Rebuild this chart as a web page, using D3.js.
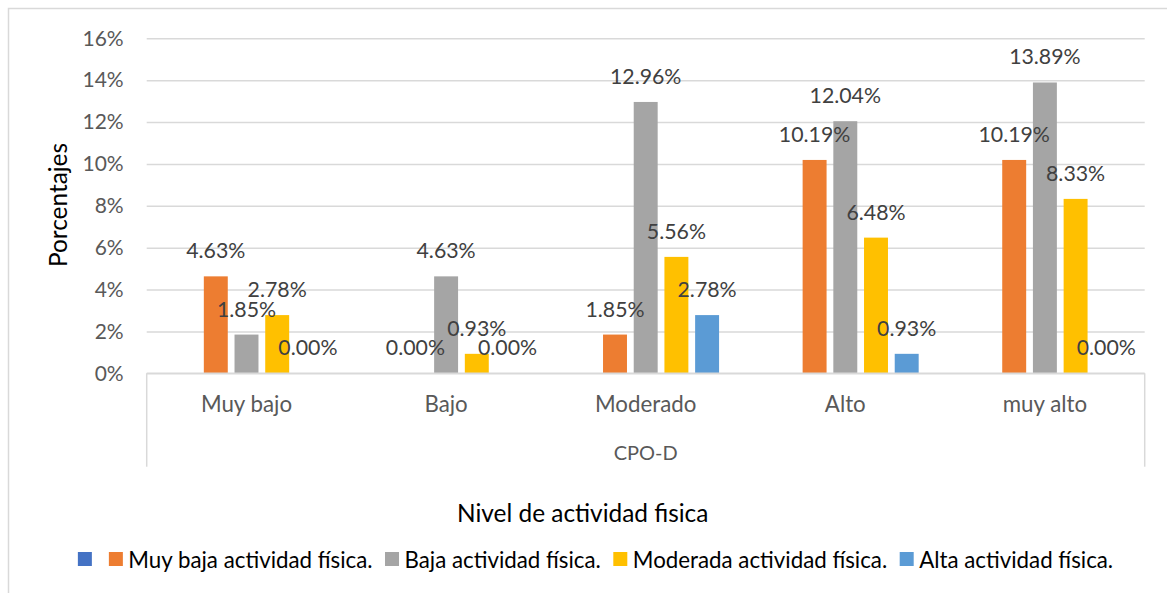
<!DOCTYPE html>
<html>
<head>
<meta charset="utf-8">
<script src="https://cdn.jsdelivr.net/npm/d3@7"></script>
<style>
  html, body { margin: 0; padding: 0; background: #ffffff; }
  svg { display: block; font-family: "Lato", "Open Sans", sans-serif; }
</style>
</head>
<body>
<svg id="chart" width="1167" height="593"></svg>
<script>
// ---- data ----
const categories = ["Muy bajo", "Bajo", "Moderado", "Alto", "muy alto"];
const groupLabel = "CPO-D";
const seriesNames = ["", "Muy baja actividad física.", "Baja actividad física.", "Moderada actividad física.", "Alta actividad física."];
const seriesColors = ["#4472C4", "#ED7D31", "#A5A5A5", "#FFC000", "#5B9BD5"];
const emptySeries = [null, null, null, null, null];
const muyBajaValues = [4.63, 0.00, 1.85, 10.19, 10.19];
const bajaValues = [1.85, 4.63, 12.96, 12.04, 13.89];
const moderadaValues = [2.78, 0.93, 5.56, 6.48, 8.33];
const altaValues = [0.00, 0.00, 2.78, 0.93, 0.00];
const yTicks = [0, 2, 4, 6, 8, 10, 12, 14, 16];
const yTitle = "Porcentajes";
const xTitle = "Nivel de actividad fisica";

const seriesValues = [emptySeries, muyBajaValues, bajaValues, moderadaValues, altaValues];

// ---- layout ----
const svg = d3.select("#chart");
const W = 1167, H = 593;
const plot = { left: 146.7, right: 1144.7, top: 38.3, bottom: 373.3 };
const axisBottom = 466.7;

// outer chart border (right/bottom edges lie outside the picture)
svg.append("rect")
  .attr("x", 8.5).attr("y", 8.5)
  .attr("width", W + 10).attr("height", H + 10)
  .attr("fill", "#fff").attr("stroke", "#d9d9d9").attr("stroke-width", 1.5);

const x0 = d3.scaleBand().domain(categories).range([plot.left, plot.right]).padding(0);
const groupWidth = 153.5;
const x1 = d3.scaleBand().domain(d3.range(seriesNames.length))
  .range([0, groupWidth]).paddingInner(0.22).paddingOuter(0.11);
const y = d3.scaleLinear().domain([0, 16]).range([plot.bottom, plot.top]);

// gridlines + tick labels
const yAxis = d3.axisLeft(y).tickValues(yTicks).tickFormat(d => d + "%")
  .tickSize(-(plot.right - plot.left)).tickPadding(23);
const gy = svg.append("g").attr("transform", `translate(${plot.left},0)`).call(yAxis);
gy.select(".domain").remove();
gy.selectAll(".tick line").attr("stroke", "#d9d9d9").attr("stroke-width", 1.5);
gy.selectAll(".tick text").attr("fill", "#595959").style("font-size", "21px")
  .style("font-family", "Lato, sans-serif");

// bars
const groups = svg.append("g").selectAll("g").data(categories).join("g")
  .attr("transform", d => `translate(${x0(d) + (x0.bandwidth() - groupWidth) / 2},0)`);

groups.each(function(cat, ci) {
  const g = d3.select(this);
  seriesValues.forEach((vals, si) => {
    const v = vals[ci];
    if (v === null || v === undefined) return;
    g.append("rect")
      .attr("x", x1(si)).attr("width", x1.bandwidth())
      .attr("y", y(v)).attr("height", y(0) - y(v))
      .attr("fill", seriesColors[si]);
  });
});

// data labels
groups.each(function(cat, ci) {
  const g = d3.select(this);
  seriesValues.forEach((vals, si) => {
    const v = vals[ci];
    if (v === null || v === undefined) return;
    g.append("text")
      .attr("x", x1(si) + x1.bandwidth() / 2)
      .attr("y", y(v) - 18)
      .attr("text-anchor", "middle")
      .attr("fill", "#404040")
      .style("font-size", "21.3px")
      .text(v.toFixed(2) + "%");
  });
});

// category axis lines
const axisG = svg.append("g");
axisG.append("line").attr("x1", plot.left).attr("x2", plot.right)
  .attr("y1", plot.bottom).attr("y2", plot.bottom)
  .attr("stroke", "#d9d9d9").attr("stroke-width", 1.5);
[plot.left, plot.right].forEach(xx => {
  axisG.append("line").attr("x1", xx).attr("x2", xx)
    .attr("y1", plot.bottom).attr("y2", axisBottom)
    .attr("stroke", "#d9d9d9").attr("stroke-width", 1.5);
});

// category labels
axisG.selectAll("text.cat").data(categories).join("text")
  .attr("class", "cat")
  .attr("x", d => x0(d) + x0.bandwidth() / 2)
  .attr("y", 412)
  .attr("text-anchor", "middle")
  .attr("fill", "#595959")
  .style("font-size", "22.3px")
  .text(d => d);

axisG.append("text")
  .attr("x", (plot.left + plot.right) / 2)
  .attr("y", 460)
  .attr("text-anchor", "middle")
  .attr("fill", "#595959")
  .style("font-size", "20px")
  .text(groupLabel);

// axis titles
svg.append("text")
  .attr("transform", "translate(67,205) rotate(-90)")
  .attr("text-anchor", "middle")
  .attr("fill", "#000")
  .style("font-size", "24.4px")
  .text(yTitle);

svg.append("text")
  .attr("x", 582.7).attr("y", 521.5)
  .attr("text-anchor", "middle")
  .attr("fill", "#000")
  .style("font-size", "24.4px")
  .text(xTitle);

// legend
const legend = svg.append("g");
const sq = 14;
let cx = 0;
seriesNames.forEach((name, i) => {
  const item = legend.append("g").attr("transform", `translate(${cx},0)`);
  item.append("rect").attr("x", 0).attr("y", 0).attr("width", sq).attr("height", sq)
    .attr("fill", seriesColors[i]);
  if (name) {
    const t = item.append("text").attr("x", sq + 5.5).attr("y", 16)
      .attr("fill", "#000").style("font-size", "22.3px").text(name);
    cx += sq + 5.5 + t.node().getComputedTextLength() + 12.5;
  } else {
    cx += sq + 17;
  }
});
const legendWidth = cx - 12.5;
legend.attr("transform", `translate(${595.5 - legendWidth / 2},552)`);
</script>
</body>
</html>
